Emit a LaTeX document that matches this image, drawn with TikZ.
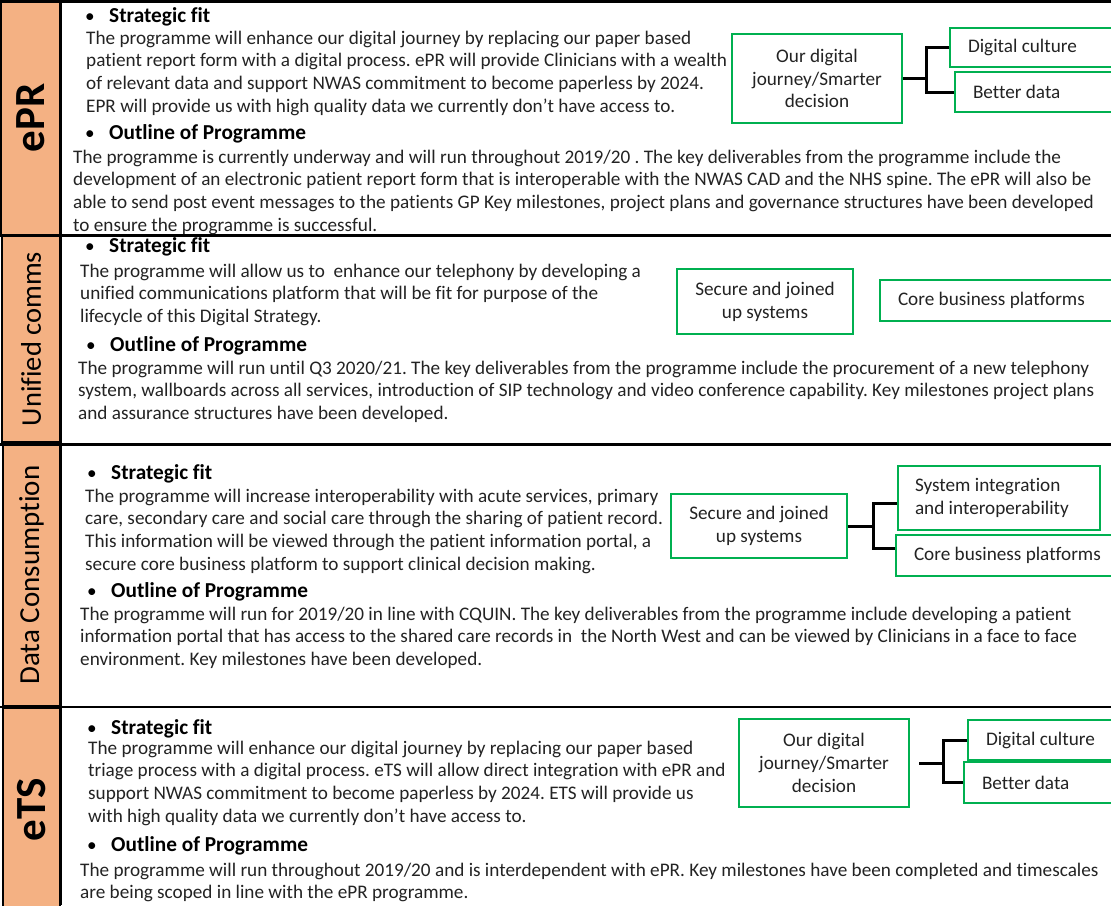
\documentclass[tikz,border=0pt]{standalone}
\usepackage{fontspec}
\setmainfont{Carlito}[RawFeature={-liga;-clig;-calt;-dlig}]
\frenchspacing
\definecolor{sideorange}{RGB}{244,177,131}
\definecolor{boxgreen}{RGB}{0,176,80}
\definecolor{bodyink}{RGB}{35,35,35}
\newcommand\txtfont{\fontsize{19.2}{22.8}\selectfont}
\newcommand\hdfont{\fontsize{21.3}{22.8}\selectfont\bfseries}
\newcommand\bul{\makebox[24pt][l]{\txtfont\mdseries\textbullet}}
\tikzset{
  side/.style={draw=black, line width=1.6pt, fill=sideorange, inner sep=0pt, text=black},
  rulebar/.style={line width=2.8pt, black},
  body/.style={anchor=north west, inner sep=0pt, align=left, font=\txtfont, text=bodyink},
  head/.style={anchor=base west, inner sep=0pt, font=\hdfont, text=black},
  gbox/.style={draw=boxgreen, line width=2pt, fill=white, align=center, font=\txtfont, text=bodyink, inner sep=0pt},
  gleft/.style={gbox, align=flush left, inner xsep=18pt, text width=200pt, anchor=west},
  link/.style={line width=3pt, black},
}
\begin{document}
\begin{tikzpicture}[x=1pt, y=-1pt]
\useasboundingbox (0,0) rectangle (1111,905);
\clip (0,0) rectangle (1111,905);
\fill[white] (0,0) rectangle (1111,905);

% ---- coloured side bars with the programme names
\node[side, rotate=90, minimum width=234, minimum height=59,
      font=\fontsize{43}{45}\selectfont\bfseries] (sepr) at (30.5,118) {ePR};
\node[side, rotate=90, minimum width=206, minimum height=58,
      font=\fontsize{28.5}{30}\selectfont] (suc) at (31,339) {Unified comms};
\node[side, rotate=90, minimum width=262, minimum height=57,
      font=\fontsize{29}{30}\selectfont] (sdc) at (31.5,575) {Data Consumption};
\node[side, rotate=90, minimum width=204, minimum height=57,
      font=\fontsize{43}{45}\selectfont\bfseries] (sets) at (31.5,810) {eTS};

% ---- frame rules
\draw[rulebar] (0,1.3) -- (1111,1.3);
\draw[rulebar] (0,235.5) -- (1111,235.5);
\draw[rulebar] (0,444.5) -- (1111,444.5);
\draw[rulebar] (0,707) -- (1111,707);
\draw[rulebar] (61,0) -- (61,905);

% ================= ePR =================
\node[head] (h1a) at (85,22) {\bul Strategic fit};
\node[body] (p1a) at (86,28) {\strut The programme will enhance our digital journey by replacing our paper based\\
patient report form with a digital process. ePR will provide Clinicians with a wealth\\
of relevant data and support NWAS commitment to become paperless by 2024.\\
EPR will provide us with high quality data we currently don’t have access to.};
\node[head] (h1b) at (85,139) {\bul Outline of Programme};
\node[body] (p1b) at (73,147) {\strut The programme is currently underway and will run throughout 2019/20 . The key deliverables from the programme include the\\
development of an electronic patient report form that is interoperable with the NWAS CAD and the NHS spine. The ePR will also be\\
able to send post event messages to the patients GP Key milestones, project plans and governance structures have been developed\\
to ensure the programme is successful.};

\node[gbox, anchor=north west, minimum width=170, minimum height=89] (odj1) at (731,33)
  {Our digital\\journey/Smarter\\decision};
\node[gleft, minimum height=39] (dc1) at (949,47.5) {Digital culture};
\node[gleft, minimum height=40] (bd1) at (954,92) {Better data};
\draw[link] (odj1.east) -- ++(23,0) coordinate (j1);
\draw[link] (dc1.west) -| (j1) |- (bd1.west);

% ================= Unified comms =================
\node[head] (h2a) at (85,252) {\bul Strategic fit};
\node[body] (p2a) at (80,261) {\strut The programme will allow us to\ \ enhance our telephony by developing a\\
unified communications platform that will be fit for purpose of the\\
lifecycle of this Digital Strategy.};
\node[head] (h2b) at (86,351) {\bul Outline of Programme};
\node[body] (p2b) at (78,358) {\strut The programme will run until Q3 2020/21. The key deliverables from the programme include the procurement of a new telephony\\
system, wallboards across all services, introduction of SIP technology and video conference capability. Key milestones project plans\\
and assurance structures have been developed.};

\node[gbox, anchor=north west, minimum width=176, minimum height=65] (suj2) at (676,268)
  {Secure and joined\\up systems};
\node[gleft, minimum height=41] (cbp2) at (879,300.5) {Core business platforms};

% ================= Data Consumption =================
\node[head] (h3a) at (87,479) {\bul Strategic fit};
\node[body] (p3a) at (85,486) {\strut The programme will increase interoperability with acute services, primary\\
care, secondary care and social care through the sharing of patient record.\\
This information will be viewed through the patient information portal, a\\
secure core business platform to support clinical decision making.};
\node[head] (h3b) at (87,597) {\bul Outline of Programme};
\node[body] (p3b) at (80,604) {\strut The programme will run for 2019/20 in line with CQUIN. The key deliverables from the programme include developing a patient\\
information portal that has access to the shared care records in\ \ the North West and can be viewed by Clinicians in a face to face\\
environment. Key milestones have been developed.};

\node[gbox, anchor=north west, minimum width=176, minimum height=64] (suj3) at (670,493)
  {Secure and joined\\up systems};
\node[gbox, anchor=north west, align=flush left, minimum width=202, minimum height=64,
      text width=168, inner xsep=17pt] (sii3) at (897,465)
  {System integration\\and interoperability};
\node[gleft, minimum height=41] (cbp3) at (895,555.5) {Core business platforms};
\draw[link] (suj3.east) -- ++(25,0) coordinate (j3);
\draw[link] (sii3.west |- 0,503) -| (j3) |- (cbp3.west |- 0,548);

% ================= eTS =================
\node[head] (h4a) at (87,734) {\bul Strategic fit};
\node[body] (p4a) at (88,738) {\strut The programme will enhance our digital journey by replacing our paper based\\
triage process with a digital process. eTS will allow direct integration with ePR and\\
support NWAS commitment to become paperless by 2024. ETS will provide us\\
with high quality data we currently don’t have access to.};
\node[head] (h4b) at (87,851) {\bul Outline of Programme};
\node[body] (p4b) at (80,860) {\strut The programme will run throughout 2019/20 and is interdependent with ePR. Key milestones have been completed and timescales\\
are being scoped in line with the ePR programme.};

\node[gbox, anchor=north west, minimum width=170, minimum height=88] (odj4) at (738,718)
  {Our digital\\journey/Smarter\\decision};
\node[gleft, minimum height=40] (dc4) at (967,740) {Digital culture};
\node[gleft, minimum height=41] (bd4) at (963,782.5) {Better data};
\draw[link] ([xshift=9pt]odj4.east) -- ++(24,0) coordinate (j4);
\draw[link] (dc4.west) -| (j4) |- (bd4.west);
\end{tikzpicture}
\end{document}
